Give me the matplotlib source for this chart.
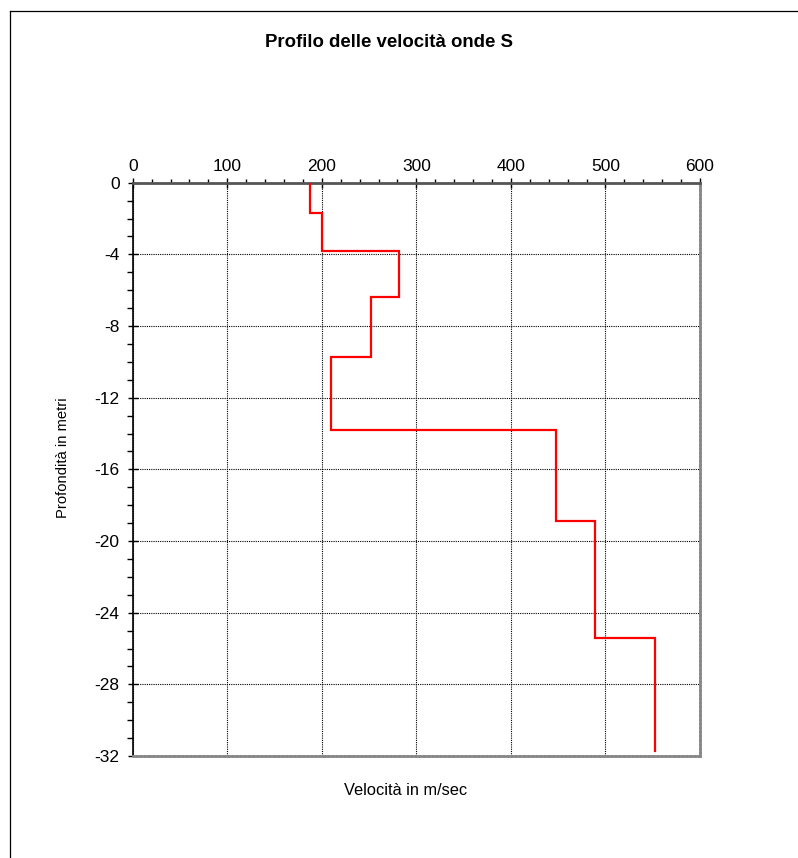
import numpy as np
import matplotlib.pyplot as plt
from matplotlib.lines import Line2D
from matplotlib.ticker import MultipleLocator

plt.rcParams['font.family'] = ['Liberation Sans', 'DejaVu Sans']
plt.rcParams['axes.unicode_minus'] = False

# Vs layers: velocity (m/s) and layer boundaries (m below ground)
velocities = [188, 200, 282, 252, 210, 448, 489, 552]
depth_edges = [0, 1.7, 3.8, 6.4, 9.7, 13.8, 18.9, 25.4, 31.7]

x_ticks = [0, 100, 200, 300, 400, 500, 600]
y_ticks = [0, -4, -8, -12, -16, -20, -24, -28, -32]

# step profile: each layer is a vertical segment at its velocity
tops = np.array(depth_edges[:-1])
bottoms = np.array(depth_edges[1:])
prof_x = np.repeat(velocities, 2)
prof_y = -np.column_stack([tops, bottoms]).ravel()

fig = plt.figure(figsize=(7.98, 8.58), dpi=100)
ax = fig.add_axes([0.1663, 0.1189, 0.7109, 0.6681])

ax.plot(prof_x, prof_y, color='red', lw=1.6, solid_joinstyle='miter', zorder=3)

ax.set_xlim(0, 600)
ax.set_ylim(-32, 0)
ax.set_xticks(x_ticks)
ax.set_yticks(y_ticks)
ax.xaxis.set_minor_locator(MultipleLocator(20))
ax.yaxis.set_minor_locator(MultipleLocator(1))
ax.xaxis.tick_top()
ax.tick_params(axis='x', which='major', direction='inout', length=7, width=1,
               labelsize=12.5, pad=2.5, colors='black')
ax.tick_params(axis='x', which='minor', direction='out', length=3, width=1)
ax.tick_params(axis='y', which='major', direction='inout', length=7, width=1,
               labelsize=12.5, pad=6)
ax.tick_params(axis='y', which='minor', direction='out', length=4, width=1)

ax.grid(True, which='major', color='black', linestyle=(0, (1, 1)), lw=0.8)

ax.spines['top'].set_color('#555555')
ax.spines['top'].set_linewidth(2)
ax.spines['left'].set_color('black')
ax.spines['left'].set_linewidth(1.2)
for side in ['bottom', 'right']:
    ax.spines[side].set_color('#888888')
    ax.spines[side].set_linewidth(2)
    ax.spines[side].set_linestyle((0, (1, 0.5)))

fig.text(0.488, 0.950, 'Profilo delle velocità onde S', ha='center', va='center',
         fontsize=13.4, fontweight='bold')
fig.text(0.508, 0.079, 'Velocità in m/sec', ha='center', va='center', fontsize=11.8)
fig.text(0.079, 0.467, 'Profondità in metri', ha='center', va='center',
         rotation=90, fontsize=10.6)

# outer frame (left and top edges)
fig.add_artist(Line2D([9.5 / 798, 9.5 / 798], [0, 1 - 10.5 / 858],
                      transform=fig.transFigure, color='black', lw=0.9))
fig.add_artist(Line2D([9.5 / 798, 1], [1 - 10.5 / 858, 1 - 10.5 / 858],
                      transform=fig.transFigure, color='black', lw=0.9))

fig.savefig('out.png', dpi=100)
